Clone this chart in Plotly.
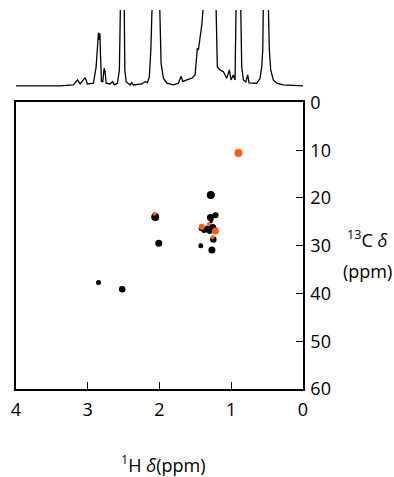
import plotly.graph_objects as go

# 1D 1H spectrum trace (ppm, intensity; values > 76 run off the top)
spec_ppm = [4.00, 3.384, 3.199, 3.143, 3.106, 3.036, 3.004, 2.921, 2.883, 2.865, 2.851, 2.841,
            2.831, 2.823, 2.809, 2.790, 2.772, 2.758, 2.744, 2.688, 2.656, 2.628, 2.586, 2.559,
            2.545, 2.521, 2.497, 2.483, 2.465, 2.409, 2.386, 2.364, 2.247, 2.201, 2.169, 2.141,
            2.121, 2.113, 2.103, 2.07, 2.04, 2.001, 1.992, 1.978, 1.946, 1.898, 1.806, 1.737,
            1.699, 1.675, 1.620, 1.550, 1.504, 1.490, 1.472, 1.458, 1.435, 1.411, 1.389, 1.30,
            1.212, 1.194, 1.156, 1.110, 1.063, 1.026, 1.003, 0.971, 0.947, 0.933, 0.923, 0.915,
            0.901, 0.887, 0.877, 0.868, 0.854, 0.831, 0.798, 0.770, 0.752, 0.645, 0.599, 0.575,
            0.561, 0.553, 0.518, 0.483, 0.469, 0.450, 0.414, 0.366, 0.274, 0.0]
spec_int = [0, 0, 1, 6, 2, 8.3, 2, 2.7, 19, 42.7, 53.3, 46,
            52.7, 32.7, 4.3, 4.3, 17.7, 14.3, 2.7, 2, 4.3, 1, 2.7, 16,
            80, 300, 80, 16, 4.3, 1, 3.3, 1, 2, 4.3, 3.3, 9.3,
            36, 59, 80, 300, 300, 80, 52.7, 22.7, 7.7, 2.7, 1, 2.7,
            9.7, 4.3, 6, 7.7, 11, 26, 37.7, 36, 49, 61, 80, 400,
            80, 19, 16, 14.3, 7.7, 16, 6, 11, 6, 80, 300, 80,
            100, 80, 300, 80, 19, 6, 4, 11, 3, 2.7, 7.7, 19,
            36, 80, 300, 80, 36, 16, 6, 2.7, 1, 0]

# HSQC cross peaks (1H ppm, 13C ppm, spot size)
black_h = [1.285, 2.06, 2.01, 2.85, 2.52, 1.425, 1.27, 1.25, 1.29, 1.22, 1.28, 1.27,
           1.38, 1.33, 1.26, 1.30, 1.24, 1.42, 1.22]
black_c = [19.4, 24.0, 29.5, 37.7, 39.1, 30.0, 30.9, 28.7, 24.1, 23.6, 25.0, 24.6,
           26.7, 26.5, 26.2, 26.9, 26.6, 26.4, 26.7]
black_s = [8, 8, 7, 5, 6.5, 5, 7, 6.5, 7, 6, 3, 3,
           6, 7, 7, 6, 6, 5, 5]

orange_h = [0.90, 2.07, 1.41, 1.31, 1.22, 1.26]
orange_c = [10.6, 23.3, 26.0, 25.4, 26.9, 28.2]
orange_s = [8, 4, 6, 4, 7, 4]

x_ticks = [4, 3, 2, 1, 0]
y_ticks = [0, 10, 20, 30, 40, 50, 60]

FONT = "Open Sans"
ORANGE = "#FF5F0F"

fig = go.Figure()
fig.add_trace(go.Scatter(x=spec_ppm, y=spec_int, mode="lines",
                         line=dict(color="black", width=1.3),
                         xaxis="x2", yaxis="y2", hoverinfo="skip"))
fig.add_trace(go.Scatter(x=black_h, y=black_c, mode="markers",
                         marker=dict(color="black", size=black_s, opacity=1, line=dict(width=0)),
                         xaxis="x", yaxis="y"))
fig.add_trace(go.Scatter(x=orange_h, y=orange_c, mode="markers",
                         marker=dict(color=ORANGE, size=orange_s, opacity=1, line=dict(width=0)),
                         xaxis="x", yaxis="y"))

axis_common = dict(showgrid=False, zeroline=False, linecolor="black", linewidth=1.5,
                   ticks="inside", ticklen=7, tickwidth=1.3, tickcolor="black",
                   tickfont=dict(family=FONT, size=18, color="black"), mirror=True,
                   automargin=False)

fig.update_layout(
    width=394, height=477,
    margin=dict(l=16, r=91, t=10, b=88, autoexpand=False),
    paper_bgcolor="white", plot_bgcolor="white",
    showlegend=False,
    xaxis=dict(domain=[0, 1], range=[4, 0], tickvals=x_ticks, anchor="y",
               ticklabelstandoff=4, **axis_common),
    yaxis=dict(domain=[0, 0.756], range=[60, 0], tickvals=y_ticks, side="right",
               anchor="x", ticklabelstandoff=2, **axis_common),
    xaxis2=dict(domain=[0, 1], range=[4, 0], anchor="y2", visible=False, automargin=False),
    yaxis2=dict(domain=[0.797, 1], range=[-1, 76], anchor="x2", visible=False, automargin=False),
    annotations=[
        dict(text="<sup>1</sup>H <i>δ</i>(ppm)", xref="paper", yref="paper",
             x=0.512, y=-0.197, xanchor="center", yanchor="middle", showarrow=False,
             font=dict(family=FONT, size=18, color="black")),
        dict(text="<sup>13</sup>C <i>δ</i>", xref="paper", yref="paper",
             x=1.223, y=0.395, xanchor="center", yanchor="middle", showarrow=False,
             font=dict(family=FONT, size=18, color="black")),
        dict(text="(ppm)", xref="paper", yref="paper",
             x=1.223, y=0.311, xanchor="center", yanchor="middle", showarrow=False,
             font=dict(family=FONT, size=18, color="black")),
    ],
)

fig.write_html("out.html")
